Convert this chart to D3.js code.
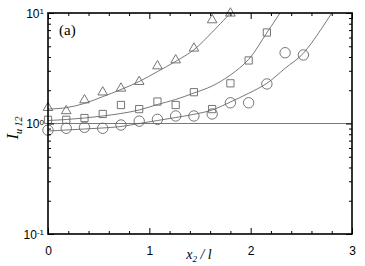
<!DOCTYPE html>
<html>
<head>
<meta charset="utf-8">
<script src="https://cdn.jsdelivr.net/npm/d3@7"></script>
<style>
  body { margin: 0; background: #fff; }
  svg { display: block; }
  .tick text { font-family: "Liberation Sans", Arial, sans-serif; font-size: 12px; fill: #000; }
  .axis path, .axis line { stroke: #000; }
</style>
</head>
<body>
<svg class="chart" width="365" height="266"></svg>
<script>
// measured points
var triX = [0, 0.18, 0.36, 0.54, 0.72, 0.9, 1.08, 1.26, 1.44, 1.62, 1.8];
var triY = [1.39, 1.30, 1.63, 1.92, 2.08, 2.39, 3.31, 3.75, 4.79, 8.64, 9.94];

var sqX = [0, 0.18, 0.36, 0.54, 0.72, 0.9, 1.08, 1.26, 1.44, 1.62, 1.8, 1.98, 2.16];
var sqY = [1.08, 1.08, 1.12, 1.22, 1.47, 1.35, 1.58, 1.47, 1.92, 1.35, 2.31, 3.72, 6.66];

var cirX = [0, 0.18, 0.36, 0.54, 0.72, 0.9, 1.08, 1.26, 1.44, 1.62, 1.8, 1.98, 2.16, 2.34, 2.52];
var cirY = [0.87, 0.905, 0.924, 0.905, 0.969, 1.05, 1.09, 1.17, 1.17, 1.22, 1.54, 1.54, 2.28, 4.37, 4.17];

// fitted curves
var triFitX = [0, 0.18, 0.36, 0.54, 0.72, 0.9, 1.08, 1.26, 1.44, 1.62, 1.8];
var triFitY = [1.35, 1.39, 1.52, 1.75, 2.03, 2.40, 2.95, 3.65, 4.65, 6.7, 10];

var sqFitX = [0, 0.18, 0.36, 0.54, 0.72, 0.9, 1.08, 1.26, 1.44, 1.62, 1.8, 1.98, 2.16, 2.29];
var sqFitY = [1.064, 1.087, 1.121, 1.169, 1.232, 1.325, 1.486, 1.649, 1.888, 2.185, 2.747, 3.80, 6.63, 10];

var cirFitX = [0, 0.18, 0.36, 0.54, 0.72, 0.9, 1.08, 1.26, 1.44, 1.62, 1.8, 1.98, 2.16, 2.34, 2.52, 2.8];
var cirFitY = [0.855, 0.873, 0.892, 0.911, 0.939, 1.0, 1.064, 1.133, 1.211, 1.325, 1.565, 1.876, 2.31, 3.16, 4.32, 10];

// axis ticks
var xMajor = [0, 1, 2, 3];
var xMinor = [0.2, 0.4, 0.6, 0.8, 1.2, 1.4, 1.6, 1.8, 2.2, 2.4, 2.6, 2.8];
var yMajor = [0.1, 1, 10];
var yMajorExp = ["-1", "0", "1"];
var yMinor = [0.2, 0.3, 0.4, 0.5, 0.6, 0.7, 0.8, 0.9, 2, 3, 4, 5, 6, 7, 8, 9];

var svg = d3.select(".chart");
var plotL = 48, plotR = 352, plotT = 13, plotB = 234;

var x = d3.scaleLinear().domain([0, 3]).range([plotL, plotR]);
var y = d3.scaleLog().domain([0.1, 10]).range([plotB, plotT]);

function zip(xs, ys) {
    return xs.map(function (d, i) { return {x: d, y: ys[i]}; });
}

svg.append("clipPath").attr("id", "clip")
    .append("rect")
    .attr("x", plotL).attr("y", plotT)
    .attr("width", plotR - plotL).attr("height", plotB - plotT);

// reference line at 1
svg.append("line")
    .attr("x1", x(0)).attr("x2", x(3))
    .attr("y1", y(1)).attr("y2", y(1))
    .attr("stroke", "#555").attr("stroke-width", 0.8);

var line = d3.line()
    .x(function (d) { return x(d.x); })
    .y(function (d) { return y(d.y); })
    .curve(d3.curveCatmullRom);

var curves = [zip(triFitX, triFitY), zip(sqFitX, sqFitY), zip(cirFitX, cirFitY)];
svg.append("g").attr("clip-path", "url(#clip)")
    .selectAll("path")
    .data(curves)
    .enter().append("path")
    .attr("d", line)
    .attr("fill", "none")
    .attr("stroke", "#555")
    .attr("stroke-width", 0.8);

var series = [
    {pts: zip(triX, triY), type: d3.symbolTriangle, size: 40},
    {pts: zip(sqX, sqY), type: d3.symbolSquare, size: 52},
    {pts: zip(cirX, cirY), type: d3.symbolCircle, size: 85}
];

series.forEach(function (s) {
    svg.append("g").selectAll("path")
        .data(s.pts)
        .enter().append("path")
        .attr("transform", function (d) { return "translate(" + x(d.x) + "," + y(d.y) + ")"; })
        .attr("d", d3.symbol().type(s.type).size(s.size))
        .attr("fill", "none")
        .attr("stroke", "#666")
        .attr("stroke-width", 0.9);
});

// axes, ticks pointing inward
function addAxis(axis, tx, ty) {
    var g = svg.append("g").attr("class", "axis")
        .attr("transform", "translate(" + tx + "," + ty + ")")
        .call(axis);
    g.select(".domain").remove();
    return g;
}

addAxis(d3.axisBottom(x).tickValues(xMajor).tickSize(-6).tickPadding(12).tickFormat(d3.format("d")), 0, plotB);
addAxis(d3.axisBottom(x).tickValues(xMinor).tickSize(-3).tickFormat(""), 0, plotB);
addAxis(d3.axisTop(x).tickValues(xMajor).tickSize(-6).tickFormat(""), 0, plotT);
addAxis(d3.axisTop(x).tickValues(xMinor).tickSize(-3).tickFormat(""), 0, plotT);

var yl = addAxis(d3.axisLeft(y).tickValues(yMajor).tickSize(-6).tickPadding(9).tickFormat(""), plotL, 0);
addAxis(d3.axisLeft(y).tickValues(yMinor).tickSize(-3).tickFormat(""), plotL, 0);
addAxis(d3.axisRight(y).tickValues(yMajor).tickSize(-6).tickFormat(""), plotR, 0);
addAxis(d3.axisRight(y).tickValues(yMinor).tickSize(-3).tickFormat(""), plotR, 0);

yl.selectAll(".tick text")
    .attr("x", -4)
    .attr("dy", "0.35em")
    .each(function (d, i) {
        var t = d3.select(this);
        t.append("tspan").text("10");
        t.append("tspan").attr("dy", "-0.45em").attr("font-size", "8px").text(yMajorExp[i]);
    });

// frame
svg.append("rect")
    .attr("x", plotL).attr("y", plotT)
    .attr("width", plotR - plotL).attr("height", plotB - plotT)
    .attr("fill", "none").attr("stroke", "#000").attr("stroke-width", 1.6);

// panel label
svg.append("text")
    .attr("x", 59).attr("y", 35)
    .attr("font-family", "Liberation Serif, serif")
    .attr("font-size", "15px")
    .text("(a)");

// x title
var xt = svg.append("text")
    .attr("x", 199).attr("y", 259)
    .attr("text-anchor", "middle")
    .attr("font-family", "Liberation Serif, serif")
    .attr("font-style", "italic")
    .attr("font-size", "14px");
xt.append("tspan").text("x");
xt.append("tspan").attr("dy", "3").attr("font-size", "9px").text("2");
xt.append("tspan").attr("dy", "-3").text(" / l");

// y title
var yt = svg.append("text")
    .attr("transform", "translate(18,128) rotate(-90)")
    .attr("text-anchor", "middle")
    .attr("font-family", "Liberation Serif, serif")
    .attr("font-style", "italic")
    .attr("font-size", "17px");
yt.append("tspan").text("I");
yt.append("tspan").attr("dy", "4").attr("font-size", "10px").text("u 12");
</script>
</body>
</html>
